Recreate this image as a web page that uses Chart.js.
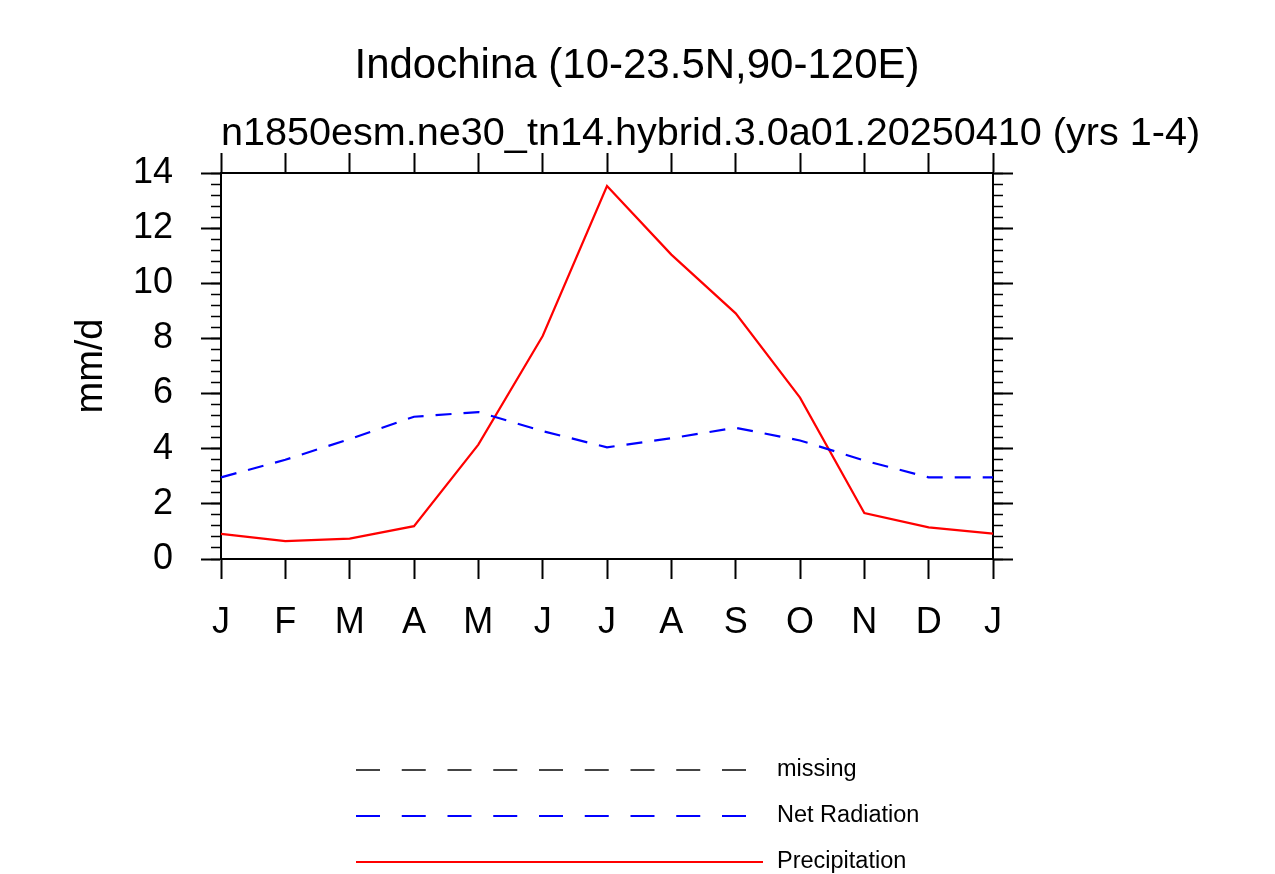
<!DOCTYPE html>
<html><head><meta charset="utf-8">
<script src="https://cdn.jsdelivr.net/npm/chart.js@4"></script>
<style>html,body{margin:0;padding:0;background:#fff;} #wrap{width:1275px;height:874px;position:relative;}</style>
</head><body><div id="wrap"><canvas id="c"></canvas></div>
<script>
const months = ['J','F','M','A','M','J','J','A','S','O','N','D','J'];
const precipitation = [0.91,0.65,0.74,1.19,4.15,8.09,13.53,11.04,8.91,5.85,1.67,1.15,0.92];
const netRadiation = [2.96,3.60,4.35,5.16,5.33,4.64,4.05,4.38,4.76,4.30,3.57,2.96,2.96];
const missing = [];
const yTicks = [0,2,4,6,8,10,12,14];
const titleText = 'Indochina (10-23.5N,90-120E)';
const subtitleText = 'n1850esm.ne30_tn14.hybrid.3.0a01.20250410 (yrs 1-4)';
const yLabel = 'mm/d';

const FONT = "'Liberation Sans', Arial, Helvetica, sans-serif";
const minorVals = [];
for (let i = 0; i <= 35; i++) minorVals.push(Math.round(i * 4) / 10);

function fixW(w){ return s => { s.width = w; }; }
function fixH(h){ return s => { s.height = h; }; }

function gridOpt(len, w){
  return {display:true, drawOnChartArea:false, drawTicks:true, tickLength:len, tickWidth:w, tickColor:'#000'};
}
const border = {display:true, color:'#000', width:2};

function yAxis(pos, len, w, vals, showLabels, width, weight){
  return {
    type:'linear', position:pos, min:0, max:14, weight: weight,
    afterBuildTicks: s => { s.ticks = vals.map(v => ({value:v})); },
    grid: gridOpt(len, w), border: border,
    ticks: {
      display:true, autoSkip:false, color:'#000', padding:28,
      font:{family:FONT, size:36},
      callback: showLabels ? (v => String(v)) : (() => '')
    },
    afterFit: fixW(width)
  };
}

const textPlugin = {
  id:'texts',
  afterDraw(chart){
    const ctx = chart.ctx;
    ctx.save();
    ctx.fillStyle = '#000';
    ctx.textBaseline = 'alphabetic';
    ctx.font = `42px ${FONT}`;
    ctx.textAlign = 'center';
    ctx.fillText(titleText, 637, 78);
    ctx.font = `39.6px ${FONT}`;
    ctx.textAlign = 'left';
    ctx.fillText(subtitleText, 221, 145);
    ctx.save();
    ctx.translate(102, 366);
    ctx.rotate(-Math.PI/2);
    ctx.textAlign = 'center';
    ctx.font = `38px ${FONT}`;
    ctx.fillText(yLabel, 0, 0);
    ctx.restore();

    // legend
    const rows = [770, 816, 862];
    chart.data.datasets.forEach((ds, i) => {
      const y = rows[i];
      ctx.save();
      ctx.strokeStyle = ds.borderColor;
      ctx.lineWidth = 1.8;
      ctx.setLineDash(ds.legendDash || []);
      ctx.beginPath();
      ctx.moveTo(356, y);
      ctx.lineTo(763, y);
      ctx.stroke();
      ctx.restore();
      ctx.font = `23.5px ${FONT}`;
      ctx.textAlign = 'left';
      ctx.textBaseline = 'middle';
      ctx.fillStyle = '#000';
      ctx.fillText(ds.label, 777, y);
    });
    ctx.restore();
  }
};

new Chart(document.getElementById('c'), {
  type:'line',
  data:{
    labels: months,
    datasets:[
      {label:'missing', data: missing, borderColor:'#444444', borderWidth:2, borderDash:[16,12], legendDash:[24,21.75], pointRadius:0, fill:false},
      {label:'Net Radiation', data: netRadiation, borderColor:'#0000ff', borderWidth:2.2, borderDash:[16,12], legendDash:[24,21.75], pointRadius:0, fill:false, tension:0},
      {label:'Precipitation', data: precipitation, borderColor:'#ff0000', borderWidth:2.2, legendDash:[], pointRadius:0, fill:false, tension:0}
    ]
  },
  options:{
    responsive:true, maintainAspectRatio:false, animation:false,
    layout:{padding:0},
    plugins:{legend:{display:false}, title:{display:false}, tooltip:{enabled:false}},
    scales:{
      x:{type:'category', position:'bottom', offset:false, weight:0,
         grid:gridOpt(20,2), border:border,
         ticks:{autoSkip:false, maxRotation:0, color:'#000', padding:22, font:{family:FONT, size:36}},
         afterFit: fixH(874 - 559)},
      xTop:{type:'category', position:'top', offset:false, labels: months, weight:0,
         grid:gridOpt(20,2), border:border,
         ticks:{autoSkip:false, maxRotation:0, color:'#000', padding:0, font:{family:FONT, size:10}, callback:()=>''},
         afterFit: fixH(173)},
      yMinor: yAxis('left', 10, 1.5, minorVals, false, 0, 0),
      y: yAxis('left', 20, 2, yTicks, true, 221, 1),
      yRMinor: yAxis('right', 10, 1.5, minorVals, false, 0, 0),
      yR: yAxis('right', 20, 2, yTicks, false, 1275 - 993, 1)
    }
  },
  plugins:[textPlugin]
});
</script>
</body></html>
